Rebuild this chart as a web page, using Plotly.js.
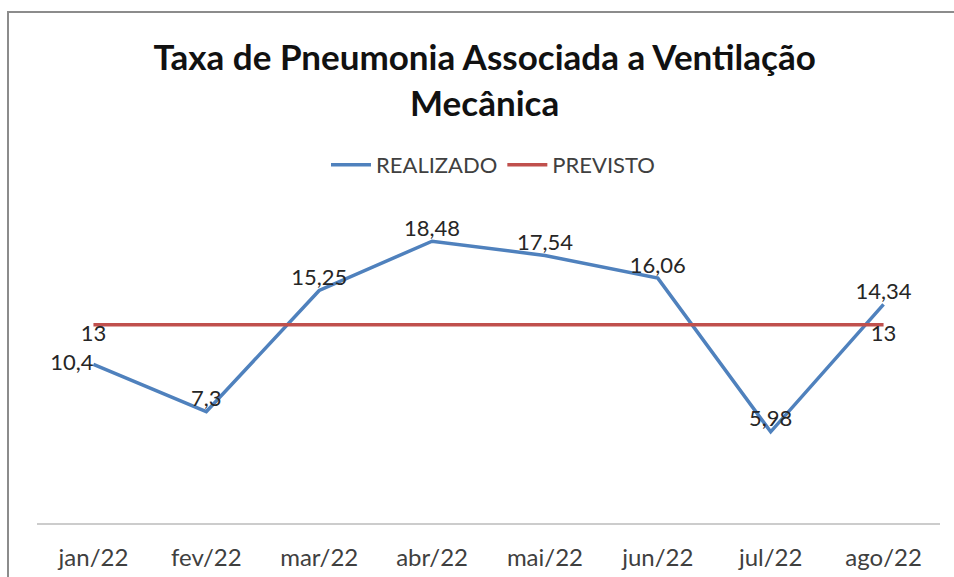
<!DOCTYPE html>
<html>
<head>
<meta charset="utf-8">
<script src="https://cdn.plot.ly/plotly-3.0.1.min.js"></script>
<style>
  body { margin: 0; background: #fff; }
  #chart { width: 954px; height: 577px; }
  .frame { position: absolute; left: 7px; top: 11px; width: 1000px; height: 700px;
           border: 2px solid #8c8c8c; pointer-events: none; }
</style>
</head>
<body>
<div id="chart"></div>
<div class="frame"></div>
<script>
// Chart data
const months = ['jan/22', 'fev/22', 'mar/22', 'abr/22', 'mai/22', 'jun/22', 'jul/22', 'ago/22'];
const realizado = [10.4, 7.3, 15.25, 18.48, 17.54, 16.06, 5.98, 14.34];
const previsto = [13, 13, 13, 13, 13, 13, 13, 13];

// Labels use a decimal comma, only first and last point of the target line are labelled
const fmt = v => String(v).replace('.', ',');
const realizadoText = realizado.map(fmt);
const previstoText = previsto.map((v, i) => (i === 0 || i === previsto.length - 1) ? fmt(v) : '');

const fontFamily = 'Lato, Open Sans, Liberation Sans, sans-serif';
const labelFont = { family: fontFamily, size: 22, color: '#262626' };

const traces = [
  {
    x: months,
    y: realizado,
    name: 'REALIZADO',
    type: 'scatter',
    mode: 'lines+text',
    line: { color: '#4F81BD', width: 3.5 },
    text: realizadoText,
    textposition: ['middle left', 'top center', 'top center', 'top center', 'top center', 'top center', 'top center', 'top center'],
    textfont: labelFont,
    cliponaxis: false,
    hoverinfo: 'x+y'
  },
  {
    x: months,
    y: previsto,
    name: 'PREVISTO',
    type: 'scatter',
    mode: 'lines+text',
    line: { color: '#C0504D', width: 3.5 },
    text: previstoText,
    textposition: 'bottom center',
    textfont: labelFont,
    cliponaxis: false,
    hoverinfo: 'x+y'
  }
];

const layout = {
  width: 954,
  height: 577,
  paper_bgcolor: '#ffffff',
  plot_bgcolor: '#ffffff',
  margin: { l: 37, r: 14, t: 218, b: 54 },
  font: { family: fontFamily, color: '#404040' },
  title: {
    text: '<b>Taxa de Pneumonia Associada a Ventilação<br>Mecânica</b>',
    font: { size: 35, color: '#111111' },
    x: 0.508,
    xanchor: 'center',
    y: 0.878,
    yanchor: 'middle',
    yref: 'container'
  },
  showlegend: true,
  legend: {
    orientation: 'h',
    x: 0.505,
    xanchor: 'center',
    y: 1.174,
    yanchor: 'middle',
    font: { size: 22, color: '#404040' },
    itemwidth: 40
  },
  xaxis: {
    type: 'category',
    range: [-0.5, 7.5],
    showgrid: false,
    zeroline: false,
    showline: true,
    linecolor: '#cccccc',
    linewidth: 2,
    ticks: '',
    ticklabelstandoff: 12,
    tickfont: { size: 24, color: '#404040' }
  },
  yaxis: {
    range: [0, 20],
    visible: false,
    showgrid: false,
    zeroline: false
  }
};

Plotly.newPlot('chart', traces, layout, { displayModeBar: false, staticPlot: true });
</script>
</body>
</html>
